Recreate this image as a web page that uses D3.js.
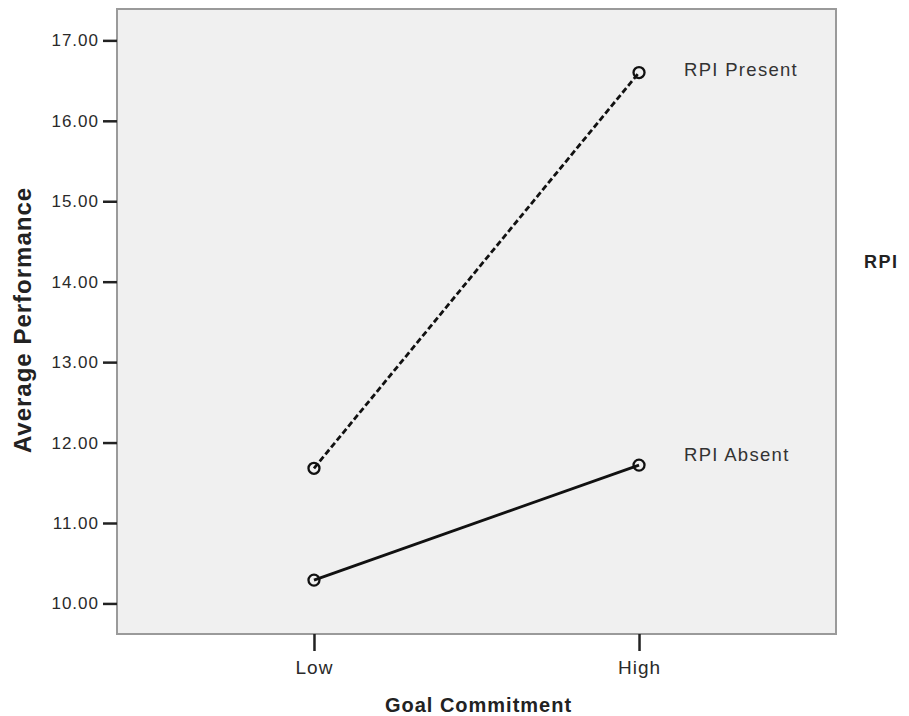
<!DOCTYPE html>
<html><head><meta charset="utf-8">
<script src="https://cdn.jsdelivr.net/npm/d3@7"></script>
<style>body{margin:0;background:#fff;} text{font-family:"Liberation Sans",Arial,sans-serif;}</style>
</head><body><svg id="c" width="909" height="716"></svg>
<script>
const categories = ["Low", "High"];
const seriesNames = ["RPI Present", "RPI Absent"];
const rpiPresent = [11.68, 16.60];
const rpiAbsent = [10.29, 11.72];
const yTicks = [10, 11, 12, 13, 14, 15, 16, 17];
const legendTitle = "RPI";
const xTitle = "Goal Commitment";
const yTitle = "Average Performance";

const svg = d3.select("#c");
const L = 117, R = 836, T = 9, B = 634;
const x = d3.scalePoint().domain(categories).range([L, R]).padding(0.606);
const y = d3.scaleLinear().domain([9.62, 17.39]).range([B, T]);

svg.append("rect").attr("x", L).attr("y", T).attr("width", R - L).attr("height", B - T)
  .attr("fill", "#f0f0f0").attr("stroke", "#9a9a9a").attr("stroke-width", 2);

const yAxis = svg.append("g").attr("transform", `translate(${L},0)`)
  .call(d3.axisLeft(y).tickValues(yTicks).tickFormat(d3.format(".2f")).tickSize(14).tickPadding(4));
yAxis.select(".domain").remove();
yAxis.selectAll(".tick line").attr("stroke", "#222").attr("stroke-width", 2.5);
yAxis.selectAll(".tick text").attr("font-size", 17).attr("fill", "#2a2a2a")
  .style("font-family", "Liberation Sans, Arial").style("letter-spacing", "1px");

const xAxis = svg.append("g").attr("transform", `translate(0,${B})`)
  .call(d3.axisBottom(x).tickSize(17).tickPadding(10));
xAxis.select(".domain").remove();
xAxis.selectAll(".tick line").attr("stroke", "#222").attr("stroke-width", 2.5);
xAxis.selectAll(".tick text").attr("font-size", 19).attr("fill", "#2a2a2a")
  .style("font-family", "Liberation Sans, Arial").style("letter-spacing", "1px");

const line = d3.line().x((d, i) => x(categories[i])).y(d => y(d));
const series = [
  {name: seriesNames[0], values: rpiPresent, dash: "6,3", dy: 3},
  {name: seriesNames[1], values: rpiAbsent, dash: null, dy: -4}
];
series.forEach(s => {
  svg.append("path").datum(s.values).attr("d", line).attr("fill", "none")
    .attr("stroke", "#111").attr("stroke-width", 2.8).attr("stroke-dasharray", s.dash);
  svg.selectAll(null).data(s.values).enter().append("circle")
    .attr("cx", (d, i) => x(categories[i])).attr("cy", d => y(d)).attr("r", 5.5)
    .attr("fill", "none").attr("stroke", "#111").attr("stroke-width", 2.3);
  const last = s.values[s.values.length - 1];
  svg.append("text").attr("x", x(categories[1]) + 45).attr("y", y(last) + s.dy)
    .attr("font-size", 18.5).attr("fill", "#333").style("letter-spacing", "1.3px").text(s.name);
});

svg.append("text").attr("x", 864).attr("y", 268).attr("font-size", 18).attr("font-weight", "bold")
  .attr("fill", "#222").style("letter-spacing", "1.5px").text(legendTitle);
svg.append("text").attr("x", (L + R) / 2 + 2).attr("y", 712).attr("text-anchor", "middle")
  .attr("font-size", 20).attr("font-weight", "bold").attr("fill", "#222").style("letter-spacing", "1px").text(xTitle);
svg.append("text").attr("transform", `translate(31,320) rotate(-90)`).attr("text-anchor", "middle")
  .attr("font-size", 24).attr("font-weight", "bold").attr("fill", "#222").style("letter-spacing", "1px").text(yTitle);
</script></body></html>
